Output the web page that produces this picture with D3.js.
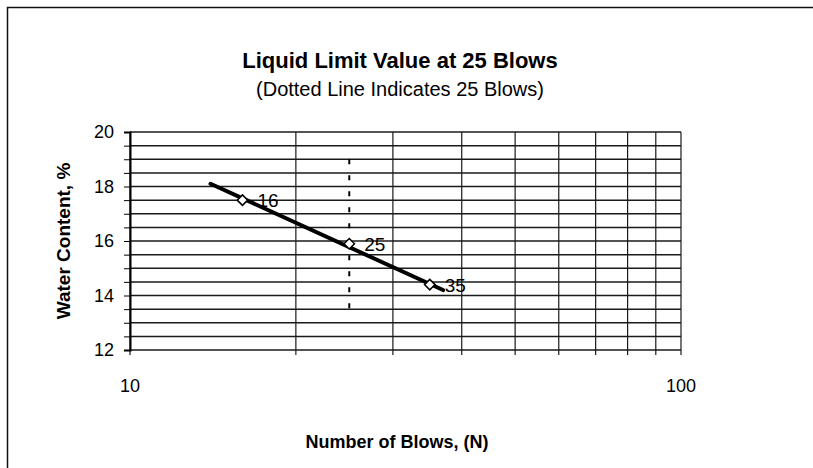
<!DOCTYPE html>
<html>
<head>
<meta charset="utf-8">
<script src="https://cdn.jsdelivr.net/npm/d3@7"></script>
<style>
  body { margin: 0; background: #fff; }
  text { font-family: Arial, "Liberation Sans", sans-serif; fill: #000; }
</style>
</head>
<body>
<div id="chart"></div>
<script>
// liquid limit chart - water content vs number of blows (log x)
var blows = [16, 25, 35];
var water = [17.5, 15.9, 14.4];
var pointLabels = ['16', '25', '35'];

// trend line ends
var trendBlows = [14, 37];
var trendWater = [18.1, 14.2];

// dotted line at 25 blows
var markBlows = [25, 25];
var markWater = [19, 13.3];

var yTicks = [12, 14, 16, 18, 20];
var xTicks = [10, 100];

var width = 813,
    height = 468;

var margin = {left: 130, right: 132, top: 132, bottom: 118};

var svg = d3.select('#chart').append('svg')
  .attr('width', width)
  .attr('height', height);

// outer frame (only top and left show)
svg.append('rect')
  .attr('x', 7.5).attr('y', 7.5)
  .attr('width', 820).attr('height', 480)
  .attr('fill', 'none')
  .style('stroke', '#111')
  .style('stroke-width', 1.5);

var x = d3.scaleLog()
  .domain([10, 100])
  .range([margin.left, width - margin.right]);

var y = d3.scaleLinear()
  .domain([12, 20])
  .range([height - margin.bottom, margin.top]);

// titles
svg.append('text')
  .attr('x', 400).attr('y', 68)
  .attr('text-anchor', 'middle')
  .style('font-size', '22px')
  .style('font-weight', 'bold')
  .text('Liquid Limit Value at 25 Blows');

svg.append('text')
  .attr('x', 400).attr('y', 96)
  .attr('text-anchor', 'middle')
  .style('font-size', '20px')
  .text('(Dotted Line Indicates 25 Blows)');

// grid
var g = svg.append('g');

var minorY = d3.range(0, 17).map(function(i) { return 12 + i * 0.5; });
g.selectAll('.hgrid')
  .data(minorY)
  .enter().append('line')
  .attr('class', 'hgrid')
  .attr('x1', x(10)).attr('x2', x(100))
  .attr('y1', function(d) { return y(d); })
  .attr('y2', function(d) { return y(d); })
  .style('stroke', '#1a1a1a')
  .style('stroke-width', 1.5);

var minorX = d3.range(1, 11).map(function(i) { return i * 10; });
g.selectAll('.vgrid')
  .data(minorX)
  .enter().append('line')
  .attr('class', 'vgrid')
  .attr('x1', function(d) { return x(d); })
  .attr('x2', function(d) { return x(d); })
  .attr('y1', y(20)).attr('y2', y(12) + 5)
  .style('stroke', '#1a1a1a')
  .style('stroke-width', 1.2);

// y axis
var yAxis = d3.axisLeft(y)
  .tickValues(minorY)
  .tickSize(6)
  .tickFormat(function(d) { return yTicks.indexOf(d) >= 0 ? d : ''; });

var ya = svg.append('g')
  .attr('transform', 'translate(' + x(10) + ',0)')
  .call(yAxis);
ya.select('.domain').style('stroke', '#000').style('stroke-width', 2);
ya.selectAll('.tick line').style('stroke', '#000');
ya.selectAll('.tick text')
  .attr('x', -16)
  .style('font-size', '18px')
  .style('font-family', 'Arial, "Liberation Sans", sans-serif');

// x axis labels
svg.selectAll('.xlab')
  .data(xTicks)
  .enter().append('text')
  .attr('class', 'xlab')
  .attr('x', function(d) { return x(d); })
  .attr('y', 392)
  .attr('text-anchor', 'middle')
  .style('font-size', '18px')
  .text(function(d) { return d; });

svg.append('text')
  .attr('x', 397).attr('y', 448)
  .attr('text-anchor', 'middle')
  .style('font-size', '18px')
  .style('font-weight', 'bold')
  .text('Number of Blows, (N)');

svg.append('text')
  .attr('transform', 'translate(70,' + ((y(12) + y(20)) / 2) + ') rotate(-90)')
  .attr('text-anchor', 'middle')
  .style('font-size', '19px')
  .style('font-weight', 'bold')
  .text('Water Content, %');

// dotted 25 blows line
var line = d3.line()
  .x(function(d) { return x(d[0]); })
  .y(function(d) { return y(d[1]); });

svg.append('path')
  .datum(d3.zip(markBlows, markWater))
  .attr('d', line)
  .attr('fill', 'none')
  .style('stroke', '#000')
  .style('stroke-width', 2)
  .style('stroke-dasharray', '5,11');

// trend line
svg.append('path')
  .datum(d3.zip(trendBlows, trendWater))
  .attr('d', line)
  .attr('fill', 'none')
  .style('stroke', '#000')
  .style('stroke-width', 4)
  .style('stroke-linecap', 'round');

// points
var pts = d3.zip(blows, water, pointLabels);
svg.selectAll('.pt')
  .data(pts)
  .enter().append('path')
  .attr('class', 'pt')
  .attr('d', d3.symbol().type(d3.symbolDiamond2).size(70))
  .attr('transform', function(d) { return 'translate(' + x(d[0]) + ',' + y(d[1]) + ')'; })
  .attr('fill', '#fff')
  .style('stroke', '#000')
  .style('stroke-width', 1.5);

svg.selectAll('.plab')
  .data(pts)
  .enter().append('text')
  .attr('class', 'plab')
  .attr('x', function(d) { return x(d[0]) + 15; })
  .attr('y', function(d) { return y(d[1]) + 7; })
  .style('font-size', '19px')
  .text(function(d) { return d[2]; });
</script>
</body>
</html>
